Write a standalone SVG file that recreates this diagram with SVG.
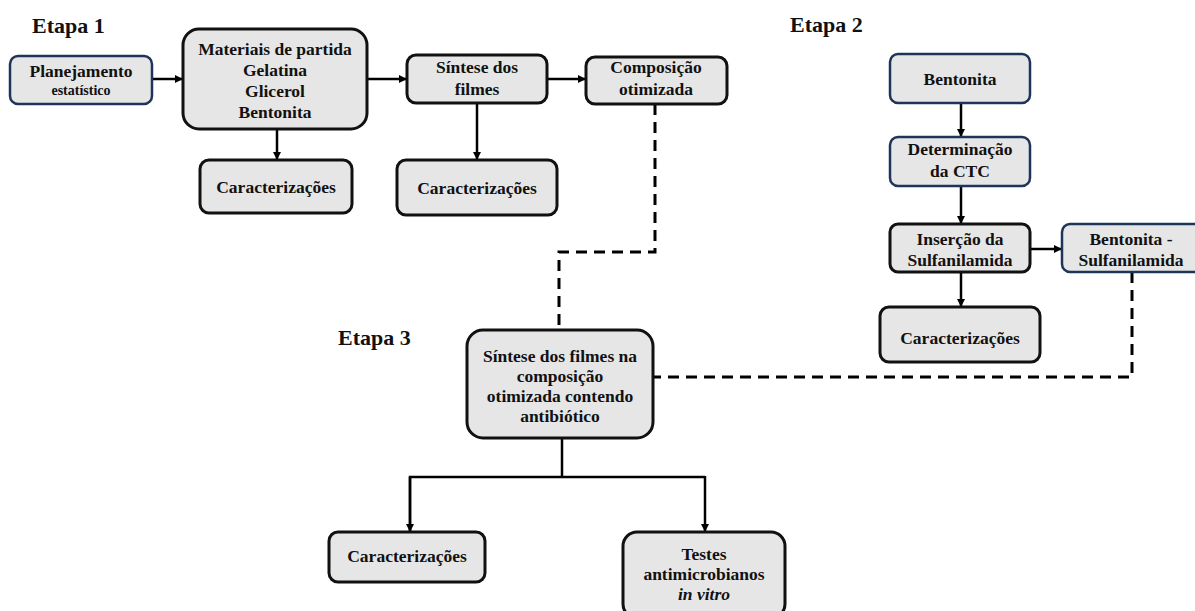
<svg xmlns="http://www.w3.org/2000/svg" width="1195" height="611" viewBox="0 0 1195 611" font-family="'Liberation Serif', 'DejaVu Serif', serif">
<defs>
<marker id="ah" viewBox="0 0 10 10" refX="10" refY="5" markerWidth="8" markerHeight="8" markerUnits="userSpaceOnUse" orient="auto">
<path d="M0,0 L10,5 L0,10 z" fill="#000"/>
</marker>
</defs>
<style>
text{font-family:'Liberation Serif',serif;font-weight:bold;fill:#111;text-anchor:middle;font-size:17.5px}
.stage{font-size:22px;text-anchor:start}
.small{font-size:14px}
.bk{fill:#e6e6e6;stroke:#111;stroke-width:3}
.bl{fill:#e6e6e6;stroke:#1f3558;stroke-width:2.5}
.c{fill:none;stroke:#000;stroke-width:2.5}
.d{fill:none;stroke:#000;stroke-width:3;stroke-dasharray:11 7}
</style>
<rect width="1195" height="611" fill="#fff"/>
<text class="stage" x="32" y="33">Etapa 1</text>
<text class="stage" x="790" y="32">Etapa 2</text>
<text class="stage" x="338" y="345">Etapa 3</text>

<g id="connectors">
<line class="c" x1="152" y1="79" x2="183" y2="79" marker-end="url(#ah)"/>
<line class="c" x1="367" y1="79" x2="407" y2="79" marker-end="url(#ah)"/>
<line class="c" x1="547" y1="79" x2="586" y2="79" marker-end="url(#ah)"/>
<line class="c" x1="277" y1="129" x2="277" y2="160" marker-end="url(#ah)"/>
<line class="c" x1="477" y1="103" x2="477" y2="160" marker-end="url(#ah)"/>
<line class="c" x1="961" y1="103" x2="961" y2="137" marker-end="url(#ah)"/>
<line class="c" x1="961" y1="186" x2="961" y2="224" marker-end="url(#ah)"/>
<line class="c" x1="1030" y1="249" x2="1062" y2="249" marker-end="url(#ah)"/>
<line class="c" x1="961" y1="272" x2="961" y2="307" marker-end="url(#ah)"/>
<polyline class="d" points="655,104 655,252 559,252 559,330"/>
<polyline class="d" points="1132,272 1132,377 653,377"/>
<line class="c" x1="562" y1="438" x2="562" y2="477"/>
<polyline class="c" points="410,532 410,477 705,477"/>
<line class="c" x1="410" y1="477" x2="410" y2="532" marker-end="url(#ah)"/>
<line class="c" x1="705" y1="476" x2="705" y2="532" marker-end="url(#ah)"/>
</g>

<g id="planejamento">
<rect class="bl" x="10" y="56" width="142" height="48" rx="8"/>
<text x="81" y="77">Planejamento</text>
<text class="small" x="81" y="95">estatístico</text>
</g>
<g id="materiais">
<rect class="bk" x="183" y="29" width="184" height="100" rx="16"/>
<text x="275" y="55">Materiais de partida</text>
<text x="275" y="76">Gelatina</text>
<text x="275" y="97">Glicerol</text>
<text x="275" y="118">Bentonita</text>
</g>
<g id="caract1">
<rect class="bk" x="200" y="160" width="152" height="53" rx="9"/>
<text x="276" y="193">Caracterizações</text>
</g>
<g id="sintese">
<rect class="bk" x="407" y="55" width="140" height="48" rx="9"/>
<text x="477" y="73">Síntese dos</text>
<text x="477" y="95">filmes</text>
</g>
<g id="caract2">
<rect class="bk" x="397" y="160" width="160" height="55" rx="9"/>
<text x="477" y="194">Caracterizações</text>
</g>
<g id="composicao">
<rect class="bk" x="586" y="57" width="141" height="47" rx="9"/>
<text x="656" y="73">Composição</text>
<text x="656" y="95">otimizada</text>
</g>
<g id="bentonita">
<rect class="bl" x="890" y="54" width="140" height="49" rx="8"/>
<text x="960" y="85">Bentonita</text>
</g>
<g id="determinacao">
<rect class="bl" x="890" y="137" width="140" height="49" rx="8"/>
<text x="960" y="155">Determinação</text>
<text x="960" y="177">da CTC</text>
</g>
<g id="insercao">
<rect class="bk" x="890" y="224" width="140" height="48" rx="8"/>
<text x="960" y="245">Inserção da</text>
<text x="960" y="266">Sulfanilamida</text>
</g>
<g id="bent-sulf">
<rect class="bl" x="1062" y="224" width="140" height="48" rx="8"/>
<text x="1131" y="245">Bentonita -</text>
<text x="1131" y="266">Sulfanilamida</text>
</g>
<g id="caract3">
<rect class="bk" x="880" y="307" width="160" height="55" rx="9"/>
<text x="960" y="344">Caracterizações</text>
</g>
<g id="sintese-antibiotico">
<rect class="bk" x="467" y="330" width="186" height="108" rx="16"/>
<text x="560" y="362">Síntese dos filmes na</text>
<text x="560" y="382">composição</text>
<text x="560" y="402">otimizada contendo</text>
<text x="560" y="422">antibiótico</text>
</g>
<g id="caract4">
<rect class="bk" x="329" y="532" width="156" height="50" rx="9"/>
<text x="407" y="562">Caracterizações</text>
</g>
<g id="testes">
<rect class="bk" x="623" y="532" width="162" height="86" rx="14"/>
<text x="704" y="560">Testes</text>
<text x="704" y="580">antimicrobianos</text>
<text x="704" y="600"><tspan font-style="italic">in vitro</tspan></text>
</g>
</svg>
